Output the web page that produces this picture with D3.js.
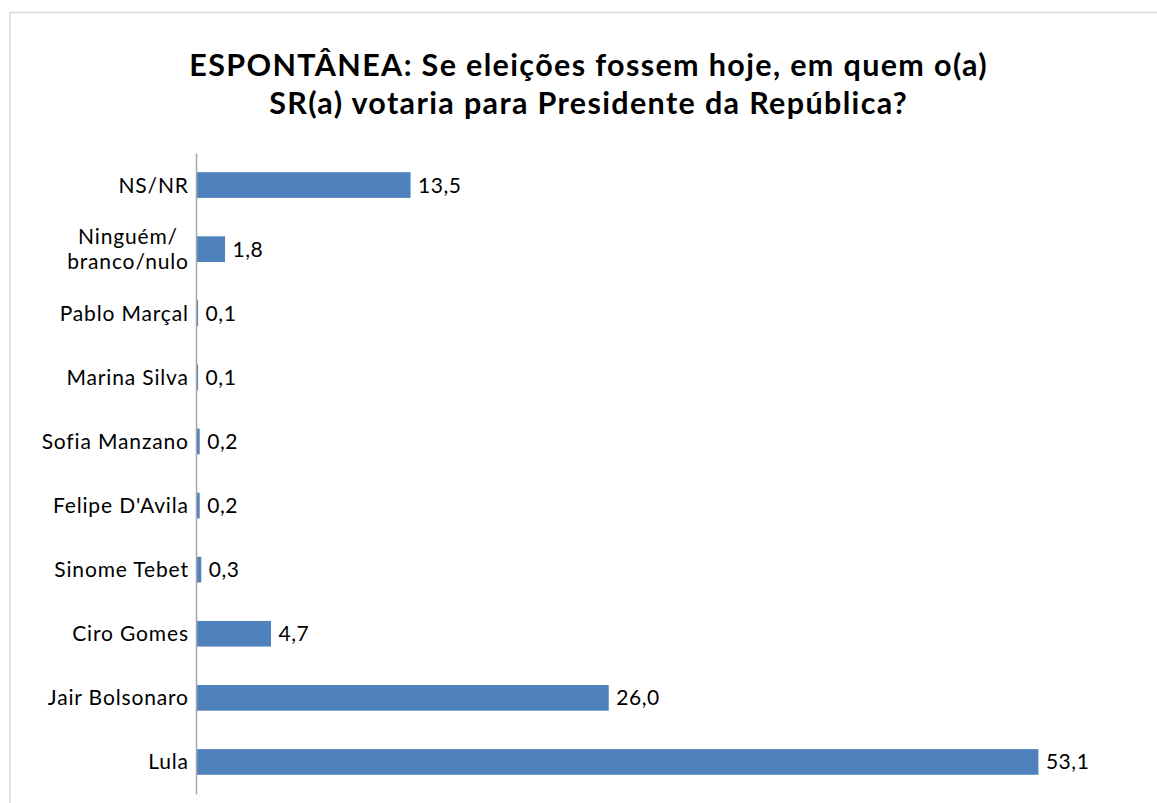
<!DOCTYPE html>
<html>
<head>
<meta charset="utf-8">
<script src="https://cdn.jsdelivr.net/npm/d3@7"></script>
<style>
  html, body { margin: 0; padding: 0; background: #ffffff; }
  svg { display: block; font-family: Lato, "Open Sans", sans-serif; }
</style>
</head>
<body>
<svg id="chart" width="1157" height="803"></svg>
<script>
// ---- data ----
const titleLines = [
  "ESPONTÂNEA: Se eleições fossem hoje, em quem o(a)",
  "SR(a) votaria para Presidente da República?"
];
const categories = [
  "NS/NR",
  "Ninguém/\nbranco/nulo",
  "Pablo Marçal",
  "Marina Silva",
  "Sofia Manzano",
  "Felipe D'Avila",
  "Sinome Tebet",
  "Ciro Gomes",
  "Jair Bolsonaro",
  "Lula"
];
const values = [13.5, 1.8, 0.1, 0.1, 0.2, 0.2, 0.3, 4.7, 26.0, 53.1];
const valueLabels = ["13,5", "1,8", "0,1", "0,1", "0,2", "0,2", "0,3", "4,7", "26,0", "53,1"];

// ---- layout ----
const svg = d3.select("#chart");
const axisX = 196, plotTop = 153, plotBottom = 794;
const barColor = "#4F81BD";

function fitSpacing(text, weight, size, target) {
  const t = svg.append("text").attr("font-size", size).attr("font-weight", weight).text(text);
  const w = t.node().getComputedTextLength();
  t.remove();
  return Math.max(0, (target - w) / text.length);
}

// border
svg.append("rect")
  .attr("x", 10).attr("y", 12.5)
  .attr("width", 1300).attr("height", 1000)
  .attr("fill", "#fff")
  .attr("stroke", "#d9d9d9").attr("stroke-width", 1.5);

// title
const titleSize = 30.5;
const titleLS = fitSpacing(titleLines[0], 700, titleSize, 843) * 0.6;
const titleBase = [76, 114];
svg.append("g").selectAll("text").data(titleLines).join("text")
  .attr("x", 588 + titleLS / 2)
  .attr("y", (d, i) => titleBase[i])
  .attr("text-anchor", "middle")
  .attr("font-weight", 700)
  .attr("font-size", titleSize)
  .attr("letter-spacing", titleLS)
  .attr("fill", "#000")
  .text(d => d);

// scales
const x = d3.scaleLinear().domain([0, 60]).range([axisX, axisX + 60 * 15.855]);
const y = d3.scaleBand().domain(categories).range([plotTop, plotBottom])
  .paddingInner(0.6).paddingOuter(0.3);

const labelSize = 21;
const labelLS = fitSpacing("Jair Bolsonaro", 400, labelSize, 149) * 0.6;
const valueSize = 21;
const valueLS = fitSpacing("53,1", 400, valueSize, 45) * 0.6;

// bars
svg.append("g").selectAll("rect").data(values).join("rect")
  .attr("x", x(0) + 0.5)
  .attr("y", (d, i) => y(categories[i]))
  .attr("width", d => Math.max(0, x(d) - x(0)))
  .attr("height", y.bandwidth())
  .attr("fill", barColor);

// axis
const axisG = svg.append("g")
  .attr("transform", `translate(${axisX},0)`)
  .call(d3.axisLeft(y).tickSize(0).tickSizeOuter(0).tickPadding(8));
axisG.select(".domain").attr("stroke", "#a6a6a6").attr("stroke-width", 1.5);
axisG.selectAll(".tick text").each(function(d) {
  const t = d3.select(this);
  const lines = d.split("\n");
  t.text(null)
    .attr("font-family", "Lato, 'Open Sans', sans-serif")
    .attr("font-size", labelSize)
    .attr("letter-spacing", labelLS)
    .attr("fill", "#000")
    .attr("dy", null);
  const lh = 25.5;
  const xEnd = -8 + labelLS;
  if (lines.length === 1) {
    t.append("tspan").attr("x", xEnd).attr("y", 7.5).text(lines[0]);
  } else {
    const spans = lines.map((l, i) =>
      t.append("tspan").attr("y", 7.5 + (i - (lines.length - 1) / 2) * lh).text(l));
    const ws = spans.map(s => s.node().getComputedTextLength());
    const maxW = d3.max(ws);
    t.attr("text-anchor", "middle");
    spans.forEach(s => s.attr("x", xEnd - maxW / 2));
  }
});

// value labels
svg.append("g").selectAll("text").data(values).join("text")
  .attr("x", d => x(d) + 8)
  .attr("y", (d, i) => y(categories[i]) + y.bandwidth() / 2 + 7.5)
  .attr("font-size", valueSize)
  .attr("letter-spacing", valueLS)
  .attr("fill", "#000")
  .text((d, i) => valueLabels[i]);
</script>
</body>
</html>
